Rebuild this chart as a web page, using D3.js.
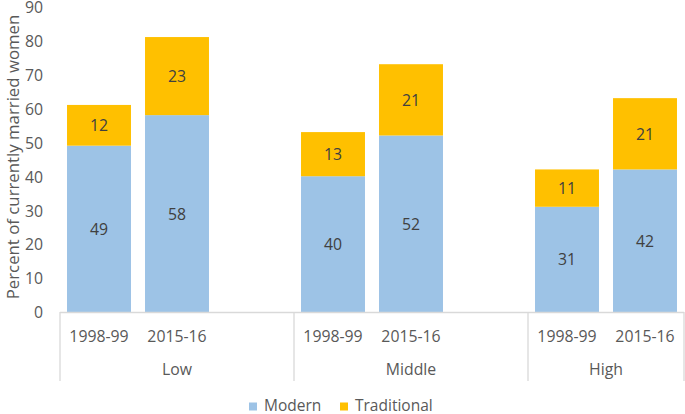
<!DOCTYPE html>
<html><head><meta charset="utf-8">
<script src="https://cdn.jsdelivr.net/npm/d3@7"></script>
<style>body{margin:0;background:#fff}svg{display:block}text{font-family:"Open Sans",sans-serif}</style>
</head><body>
<script>
const groups = ["Low", "Middle", "High"];
const periods = ["1998-99", "2015-16"];
const modern = [49, 58, 40, 52, 31, 42];
const traditional = [12, 23, 13, 21, 11, 21];
const yTicks = [0, 10, 20, 30, 40, 50, 60, 70, 80, 90];
const seriesNames = ["Modern", "Traditional"];
const colors = ["#9DC3E6", "#FFC000"];

const W = 685, H = 414;
const FS = "15.8px";
const svg = d3.select("body").append("svg").attr("width", W).attr("height", H);

const slots = [];
groups.forEach((g, gi) => {
  periods.forEach((p, pi) => slots.push(g + "|" + p));
  if (gi < groups.length - 1) slots.push(g + "|gap");
});
const x = d3.scaleBand().domain(slots).range([60, 684]).paddingInner(0.18).paddingOuter(0.09);
const y = d3.scaleLinear().domain([0, 90]).range([312, 6.5]);

const data = [];
groups.forEach((g, gi) => periods.forEach((p, pi) => {
  const i = gi * periods.length + pi;
  data.push({key: g + "|" + p, g, p, m: modern[i], t: traditional[i]});
}));

const yAxis = d3.axisLeft(y).tickValues(yTicks).tickSize(0).tickPadding(0);
const ya = svg.append("g").attr("transform", "translate(43,0)").call(yAxis);
ya.select(".domain").remove();
ya.selectAll("text").attr("fill", "#595959").attr("dy", "0.37em")
  .style("font-size", FS).style("font-family", "'Open Sans',sans-serif");

const bars = svg.append("g");
data.forEach(d => {
  bars.append("rect").attr("x", x(d.key)).attr("width", x.bandwidth())
    .attr("y", y(d.m)).attr("height", y(0) - y(d.m)).attr("fill", colors[0]);
  bars.append("rect").attr("x", x(d.key)).attr("width", x.bandwidth())
    .attr("y", y(d.m + d.t)).attr("height", y(d.m) - y(d.m + d.t)).attr("fill", colors[1]);
  bars.append("text").attr("x", x(d.key) + x.bandwidth() / 2).attr("y", y(d.m / 2))
    .attr("dy", "0.38em").attr("text-anchor", "middle").attr("fill", "#404040")
    .style("font-size", FS).text(d.m);
  bars.append("text").attr("x", x(d.key) + x.bandwidth() / 2).attr("y", y(d.m + d.t / 2))
    .attr("dy", "0.38em").attr("text-anchor", "middle").attr("fill", "#404040")
    .style("font-size", FS).text(d.t);
});

const step = x.step();
const ax = svg.append("g").attr("stroke", "#d9d9d9").attr("stroke-width", 1.3);
ax.append("line").attr("x1", 60).attr("x2", 684).attr("y1", 312.5).attr("y2", 312.5);
const bounds = [60, 60 + 3 * step, 60 + 6 * step, 684];
bounds.forEach(b => ax.append("line").attr("x1", b).attr("x2", b).attr("y1", 312).attr("y2", 381));

data.forEach(d => {
  svg.append("text").attr("x", x(d.key) + x.bandwidth() / 2).attr("y", 336).attr("dy", "0.38em")
    .attr("text-anchor", "middle").attr("fill", "#595959").style("font-size", FS).text(d.p);
});
groups.forEach((g, gi) => {
  const a = bounds[gi], b = bounds[gi + 1];
  svg.append("text").attr("x", (a + b) / 2).attr("y", 369).attr("dy", "0.38em")
    .attr("text-anchor", "middle").attr("fill", "#595959").style("font-size", FS).text(g);
});

svg.append("text").attr("transform", "translate(13,157) rotate(-90)").attr("dy", "0.35em")
  .attr("text-anchor", "middle").attr("fill", "#595959").style("font-size", "16.8px")
  .text("Percent of currently married women");

const leg = svg.append("g");
const lx = [249, 340];
seriesNames.forEach((s, i) => {
  leg.append("rect").attr("x", lx[i]).attr("y", 402.5).attr("width", 8).attr("height", 8).attr("fill", colors[i]);
  leg.append("text").attr("x", lx[i] + 15).attr("y", 411).attr("fill", "#595959")
    .style("font-size", "15.5px").text(s);
});
</script>
</body></html>
